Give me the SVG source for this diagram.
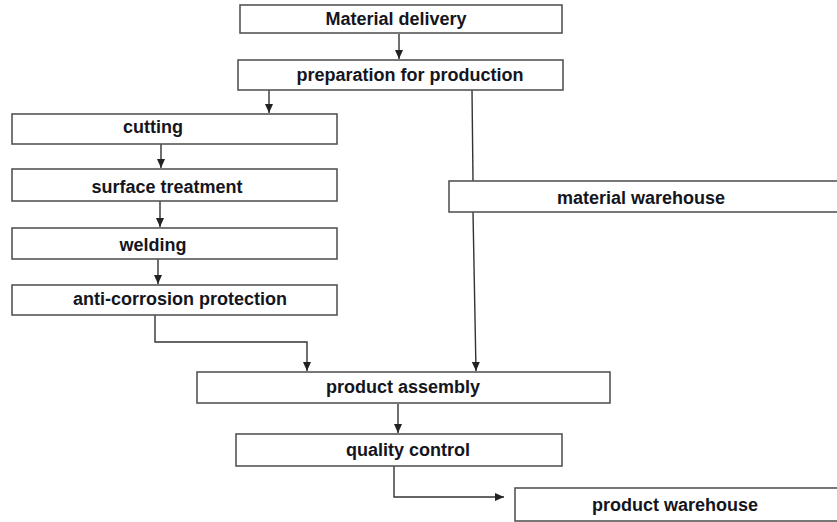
<svg xmlns="http://www.w3.org/2000/svg" width="837" height="522" viewBox="0 0 837 522">
<defs>
<style>
.box{fill:#fff;stroke:#555;stroke-width:1.6}
.lbl{font-family:"Liberation Sans",Arial,sans-serif;font-weight:bold;font-size:18px;fill:#151520;text-anchor:middle}
.con{fill:none;stroke:#333;stroke-width:1.4}
</style>
<marker id="ah" markerUnits="userSpaceOnUse" markerWidth="10" markerHeight="10" viewBox="0 0 10 10" refX="9" refY="5" orient="auto">
<path d="M0,1 L9,5 L0,9 Z" fill="#222"/>
</marker>
</defs>
<rect width="837" height="522" fill="#fff"/>
<g id="connectors">
<line class="con" x1="399" y1="34" x2="399" y2="59" marker-end="url(#ah)"/>
<line class="con" x1="269" y1="90" x2="269" y2="113" marker-end="url(#ah)"/>
<line class="con" x1="161" y1="144" x2="161" y2="168" marker-end="url(#ah)"/>
<line class="con" x1="160" y1="201" x2="160" y2="227" marker-end="url(#ah)"/>
<line class="con" x1="158" y1="259" x2="158" y2="284" marker-end="url(#ah)"/>
<path class="con" d="M155,315 V342 H307 V371" marker-end="url(#ah)"/>
<line class="con" x1="472" y1="90" x2="473" y2="181"/>
<line class="con" x1="473" y1="212" x2="476" y2="371" marker-end="url(#ah)"/>
<line class="con" x1="398" y1="404" x2="398" y2="433" marker-end="url(#ah)"/>
<path class="con" d="M394,466 V497 H504" marker-end="url(#ah)"/>
</g>
<g id="material-delivery"><rect class="box" x="240" y="5" width="322" height="28"/><text class="lbl" x="396" y="25">Material delivery</text></g>
<g id="preparation"><rect class="box" x="238" y="60" width="325" height="30"/><text class="lbl" x="410" y="81">preparation for production</text></g>
<g id="cutting"><rect class="box" x="12" y="114" width="325" height="30"/><text class="lbl" x="153" y="133">cutting</text></g>
<g id="surface-treatment"><rect class="box" x="12" y="169" width="325" height="32"/><text class="lbl" x="167" y="193">surface treatment</text></g>
<g id="welding"><rect class="box" x="12" y="228" width="325" height="31"/><text class="lbl" x="153" y="251">welding</text></g>
<g id="anti-corrosion"><rect class="box" x="12" y="285" width="325" height="30"/><text class="lbl" x="180" y="305">anti-corrosion protection</text></g>
<g id="material-warehouse"><rect class="box" x="449" y="181" width="390" height="31"/><text class="lbl" x="641" y="204">material warehouse</text></g>
<g id="product-assembly"><rect class="box" x="197" y="372" width="413" height="31"/><text class="lbl" x="403" y="393">product assembly</text></g>
<g id="quality-control"><rect class="box" x="236" y="434" width="326" height="32"/><text class="lbl" x="408" y="456">quality control</text></g>
<g id="product-warehouse"><rect class="box" x="515" y="488" width="324" height="33"/><text class="lbl" x="675" y="511">product warehouse</text></g>
</svg>
